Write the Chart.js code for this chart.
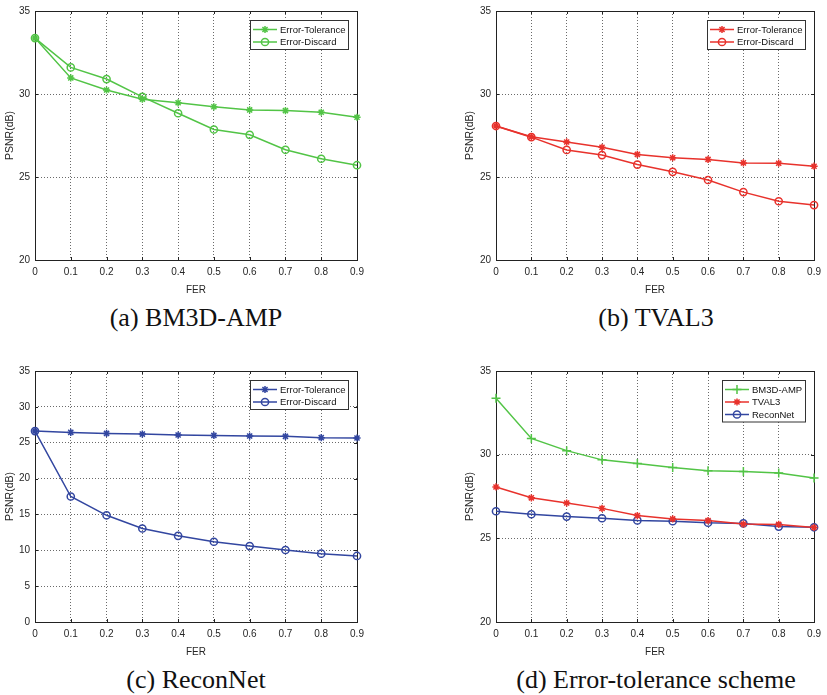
<!DOCTYPE html>
<html>
<head>
<meta charset="utf-8">
<script src="https://cdn.jsdelivr.net/npm/chart.js@4.4.1/dist/chart.umd.min.js"></script>
<style>
  body { margin: 0; background: #fff; }
  #wrap { position: relative; width: 827px; height: 695px; }
  canvas { position: absolute; }
  .cap { position: absolute; font-family: "Liberation Serif", serif; font-size: 26px; color: #111;
         transform: translate(-50%, -50%); white-space: nowrap; }
</style>
</head>
<body>
<div id="wrap">
  <canvas id="chartA" width="410" height="300" style="left:0;top:0"></canvas>
  <canvas id="chartB" width="417" height="300" style="left:410px;top:0"></canvas>
  <canvas id="chartC" width="410" height="300" style="left:0;top:360px"></canvas>
  <canvas id="chartD" width="417" height="300" style="left:410px;top:360px"></canvas>
  <div class="cap" style="left:196px;top:318px">(a) BM3D-AMP</div>
  <div class="cap" style="left:656px;top:318px">(b) TVAL3</div>
  <div class="cap" style="left:196px;top:680px">(c) ReconNet</div>
  <div class="cap" style="left:656px;top:680px">(d) Error-tolerance scheme</div>
</div>
<script>
// FER values (x axis)
const fer = ['0', '0.1', '0.2', '0.3', '0.4', '0.5', '0.6', '0.7', '0.8', '0.9'];

// PSNR (dB)
const bm3dTolerance = [33.37, 30.97, 30.24, 29.69, 29.47, 29.23, 29.04, 29.0, 28.9, 28.6];
const bm3dDiscard = [33.37, 31.6, 30.9, 29.83, 28.84, 27.86, 27.54, 26.64, 26.1, 25.71];
const tval3Tolerance = [28.07, 27.42, 27.11, 26.79, 26.36, 26.16, 26.06, 25.85, 25.83, 25.65];
const tval3Discard = [28.07, 27.4, 26.63, 26.32, 25.75, 25.31, 24.82, 24.09, 23.54, 23.31];
const reconTolerance = [26.62, 26.44, 26.3, 26.2, 26.07, 26.02, 25.93, 25.89, 25.7, 25.66];
const reconDiscard = [26.62, 17.5, 14.88, 13.04, 12.02, 11.19, 10.59, 10.04, 9.53, 9.21];

const green = 'rgb(82,196,70)';
const red = 'rgb(232,50,44)';
const blue = 'rgb(50,70,160)';

function series(label, data, color, style) {
    return {
        label: label,
        data: data,
        borderColor: color,
        borderWidth: 1.5,
        pointStyle: style,
        pointRadius: style === 'cross' ? 4.5 : 3.6,
        pointBorderColor: color,
        pointBackgroundColor: 'rgba(0,0,0,0)',
        pointBorderWidth: 1.5,
        tension: 0,
        clip: false
    };
}

// frame box + inward tick marks (matlab style)
const framePlugin = {
    id: 'frame',
    beforeDatasetsDraw(chart) {
        const ctx = chart.ctx;
        const a = chart.chartArea;
        ctx.save();
        ctx.strokeStyle = '#222';
        ctx.lineWidth = 1;
        ctx.strokeRect(Math.round(a.left) + 0.5, Math.round(a.top) + 0.5,
            Math.round(a.right - a.left), Math.round(a.bottom - a.top));
        ctx.beginPath();
        const xs = chart.scales.x, ys = chart.scales.y;
        xs.ticks.forEach((t, i) => {
            const x = Math.round(xs.getPixelForTick(i)) + 0.5;
            ctx.moveTo(x, a.bottom); ctx.lineTo(x, a.bottom - 3);
            ctx.moveTo(x, a.top); ctx.lineTo(x, a.top + 3);
        });
        ys.ticks.forEach((t, i) => {
            const y = Math.round(ys.getPixelForTick(i)) + 0.5;
            ctx.moveTo(a.left, y); ctx.lineTo(a.left + 3, y);
            ctx.moveTo(a.right, y); ctx.lineTo(a.right - 3, y);
        });
        ctx.stroke();
        ctx.restore();
    }
};

// boxed legend inside the top right corner
const boxLegend = {
    id: 'boxLegend',
    afterDraw(chart) {
        const ctx = chart.ctx;
        const a = chart.chartArea;
        const sets = chart.data.datasets;
        ctx.save();
        ctx.font = '9.5px "Liberation Sans", Arial, sans-serif';
        let tw = 0;
        sets.forEach(d => { tw = Math.max(tw, ctx.measureText(d.label).width); });
        const w = 29.5 + tw + 3.5;
        const h = 9 + 12.5 * (sets.length - 1) + 7.5;
        const right = Math.round(a.right - 9) + 0.5;
        const top = Math.round(a.top + 9) + 0.5;
        const left = right - Math.round(w);
        ctx.fillStyle = '#fff';
        ctx.fillRect(left, top, right - left, h);
        ctx.strokeStyle = '#333';
        ctx.lineWidth = 1;
        ctx.strokeRect(left, top, right - left, h);
        sets.forEach((d, i) => {
            const y = top + 9 + 12.5 * i;
            ctx.strokeStyle = d.borderColor;
            ctx.lineWidth = 1.5;
            ctx.beginPath();
            ctx.moveTo(left + 2.5, y);
            ctx.lineTo(left + 26.5, y);
            ctx.stroke();
            ctx.fillStyle = 'rgba(0,0,0,0)';
            Chart.helpers.drawPoint(ctx, {
                pointStyle: d.pointStyle,
                radius: d.pointRadius,
                rotation: 0,
                borderWidth: 1.5
            }, left + 14.5, y);
            ctx.fillStyle = '#111';
            ctx.textBaseline = 'middle';
            ctx.textAlign = 'left';
            ctx.fillText(d.label, left + 29.5, y + 0.5);
        });
        ctx.restore();
    }
};

function buildChart(id, datasets, yMin, yMax, pad, yWidth) {
    const ctx = document.getElementById(id).getContext('2d');
    return new Chart(ctx, {
        type: 'line',
        data: { labels: fer, datasets: datasets },
        options: {
            responsive: false,
            animation: false,
            layout: { padding: pad },
            plugins: { legend: { display: false }, tooltip: { enabled: false } },
            scales: {
                x: {
                    type: 'category',
                    offset: false,
                    grid: { color: '#444', lineWidth: 0.8, drawTicks: false },
                    border: { display: false, dash: [1, 2] },
                    ticks: { color: '#262626', padding: 6, maxRotation: 0, autoSkip: false,
                             font: { size: 10, family: '"Liberation Sans", Arial, sans-serif' } },
                    title: { display: true, text: 'FER', color: '#262626', padding: 0,
                             font: { size: 10, family: '"Liberation Sans", Arial, sans-serif' } },
                    afterFit(scale) { scale.height = 36; }
                },
                y: {
                    min: yMin,
                    max: yMax,
                    grid: { color: '#444', lineWidth: 0.8, drawTicks: false },
                    border: { display: false, dash: [1, 2] },
                    ticks: { stepSize: 5, color: '#262626', padding: 5,
                             font: { size: 10, family: '"Liberation Sans", Arial, sans-serif' } },
                    title: { display: true, text: 'PSNR(dB)', color: '#262626', padding: { top: 4, bottom: 0 },
                             font: { size: 10.5, family: '"Liberation Sans", Arial, sans-serif' } },
                    afterFit(scale) { scale.width = yWidth; }
                }
            }
        },
        plugins: [framePlugin, boxLegend]
    });
}

buildChart('chartA', [
    series('Error-Tolerance', bm3dTolerance, green, 'star'),
    series('Error-Discard', bm3dDiscard, green, 'circle')
], 20, 35, { left: 0, right: 53, top: 6, bottom: 4 }, 35);

buildChart('chartB', [
    series('Error-Tolerance', tval3Tolerance, red, 'star'),
    series('Error-Discard', tval3Discard, red, 'circle')
], 20, 35, { left: 50, right: 10, top: 6, bottom: 4 }, 36);

buildChart('chartC', [
    series('Error-Tolerance', reconTolerance, blue, 'star'),
    series('Error-Discard', reconDiscard, blue, 'circle')
], 0, 35, { left: 0, right: 53, top: 9, bottom: 2 }, 35);

buildChart('chartD', [
    series('BM3D-AMP', bm3dTolerance, green, 'cross'),
    series('TVAL3', tval3Tolerance, red, 'star'),
    series('ReconNet', reconTolerance, blue, 'circle')
], 20, 35, { left: 50, right: 10, top: 9, bottom: 2 }, 36);
</script>
</body>
</html>
